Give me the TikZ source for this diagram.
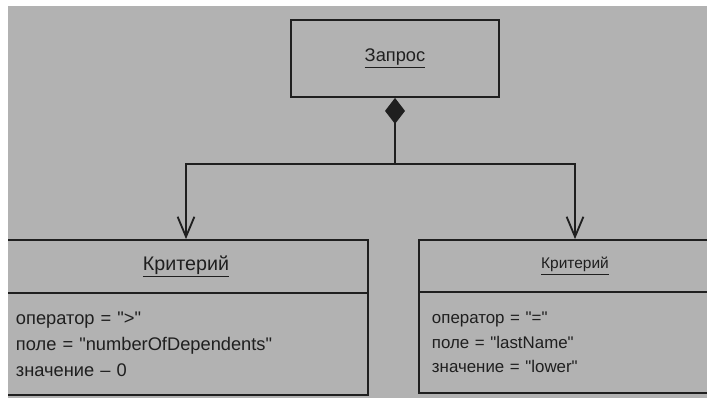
\documentclass[tikz,border=0pt]{standalone}
\usepackage{fontspec}
\setmainfont{Liberation Sans}
\usetikzlibrary{positioning, arrows.meta}
\definecolor{paper}{gray}{0.7}
\definecolor{ink}{gray}{0.12}
\newcommand{\qt}{\textquotedbl}

\begin{document}
\begin{tikzpicture}[x=0.025cm, y=-0.025cm,
            objbox/.style={rectangle, draw=ink, line width=1.3pt, fill=paper, inner sep=0pt, text=ink},
            attrs/.style={objbox, align=left},
            % ромб композиции у объекта Запрос
            compose/.style={draw=ink, line width=1.3pt, {Diamond[length=6.5mm, width=5mm]}-},
            assoc/.style={draw=ink, line width=1.3pt, -{Straight Barb[length=5mm, width=4.2mm]}}
        ]
            % --- Лист ---
            \fill[white] (0,0) rectangle (707,402);
            \fill[paper] (8,6) rectangle (707,398);

            \begin{scope}
            \clip (8,6) rectangle (707,398);

            % --- Объекты ---
            \node[objbox, minimum width=5.2cm, minimum height=1.925cm, font=\fontsize{13}{15}\selectfont] (query) at (395,58.5) {\underline{Запрос}};

            \node[objbox, minimum width=9.1cm, minimum height=1.325cm, font=\fontsize{14}{16}\selectfont] (crit1) at (186,266.5) {\underline{Критерий}};
            \node[attrs, text width=8.5cm, inner xsep=0.3cm, minimum height=2.55cm, font=\fontsize{13}{18.5}\selectfont] (crit1body) at (186,344) {оператор = \qt{>}\qt\\поле = \qt numberOfDependents\qt\\значение – 0};

            \node[objbox, minimum width=7.8cm, minimum height=1.3cm, font=\fontsize{11}{13}\selectfont] (crit2) at (575,266) {\underline{Критерий}};
            \node[attrs, text width=7.15cm, inner xsep=0.325cm, minimum height=2.525cm, font=\fontsize{12}{17.4}\selectfont] (crit2body) at (575,342.5) {оператор = \qt=\qt\\поле = \qt lastName\qt\\значение = \qt lower\qt};

            % --- Связи ---
            \coordinate (split) at (395,164);
            \draw[compose] (query.south) -- (split);
            \draw[assoc] (split) -| (crit1.north);
            \draw[assoc] (split) -| (crit2.north);
            \end{scope}
        \end{tikzpicture}
\end{document}
